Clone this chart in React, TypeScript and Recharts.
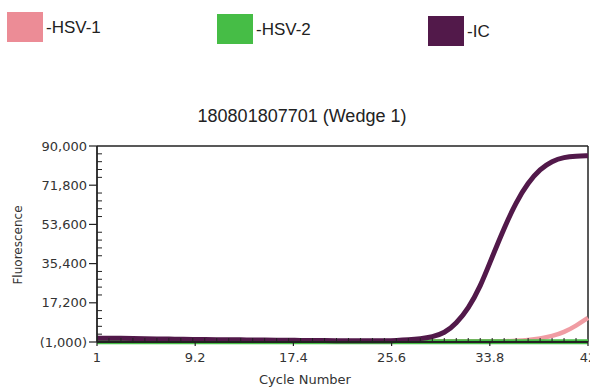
import React from 'react';
import { LineChart, Line, XAxis, YAxis, ReferenceLine } from 'recharts';

const cycles = [
  1, 2, 3, 4, 5, 6, 7, 8, 9, 10, 11, 12, 13, 14, 15, 16, 17, 18, 19, 20, 21,
  22, 23, 24, 25, 26, 27, 28, 29, 30, 31, 32, 33, 34, 35, 36, 37, 38, 39, 40, 41, 42,
];

const hsv1 = [
  -700, -700, -700, -700, -700, -700, -700, -700, -700, -700, -700, -700, -700, -700,
  -700, -700, -700, -700, -700, -700, -700, -700, -700, -700, -700, -700, -700, -700,
  -700, -700, -700, -700, -700, -700, -700, -500, -100, 600, 1700, 3500, 6500, 10200,
];

const hsv2 = [
  -900, -900, -900, -900, -900, -900, -900, -900, -900, -900, -900, -900, -900, -900,
  -900, -900, -900, -900, -900, -900, -900, -900, -900, -900, -900, -900, -900, -900,
  -900, -900, -900, -900, -900, -900, -900, -900, -900, -900, -900, -900, -900, -900,
];

const ic = [
  800, 750, 700, 600, 500, 420, 350, 280, 200, 150, 100, 50, 0, -50, -100, -150, -200,
  -250, -300, -350, -400, -420, -450, -450, -420, -300, 0, 500, 1400, 3000, 7600, 14500,
  24500, 38500, 52000, 64000, 73000, 79300, 83000, 84800, 85300, 85500,
];

const yMajor = [-1000, 17200, 35400, 53600, 71800, 90000];
const xMajor = [1, 9.2, 17.4, 25.6, 33.8, 42];

// minor ticks: 5 subdivisions on y, every cycle on x
const yTicks: number[] = [];
for (let i = 0; i < yMajor.length - 1; i++) {
  const step = (yMajor[i + 1] - yMajor[i]) / 5;
  for (let k = 0; k < 5; k++) yTicks.push(yMajor[i] + step * k);
}
yTicks.push(yMajor[yMajor.length - 1]);
const xTicks = Array.from(new Set([...cycles, ...xMajor])).sort((a, b) => a - b);

const data = cycles.map((c, i) => ({ cycle: c, hsv1: hsv1[i], hsv2: hsv2[i], ic: ic[i] }));

const PINK = '#ec8c96';
const GREEN = '#46bd46';
const PURPLE = '#52194a';
const AXIS = '#222';

const fmtY = (v: number) =>
  v < 0 ? `(${Math.abs(v).toLocaleString('en-US')})` : v.toLocaleString('en-US');

const tickFont = { fontFamily: 'DejaVu Sans', fontSize: 13, fill: '#333' };

const YTick = (props: any) => {
  const { x, y, payload } = props;
  const major = yMajor.some((m) => Math.abs(m - payload.value) < 1);
  if (!major) return <line x1={x} x2={x + 5} y1={y} y2={y} stroke={AXIS} strokeWidth={1} />;
  return (
    <g>
      <line x1={x - 8} x2={x} y1={y} y2={y} stroke={AXIS} strokeWidth={1.2} />
      <text x={x - 10} y={y} dy={4.5} textAnchor="end" {...tickFont}>
        {fmtY(payload.value)}
      </text>
    </g>
  );
};

const XTick = (props: any) => {
  const { x, y, payload } = props;
  const major = xMajor.some((m) => Math.abs(m - payload.value) < 0.01);
  if (!major) return <line x1={x} x2={x} y1={y} y2={y - 4} stroke={AXIS} strokeWidth={1} />;
  return (
    <g>
      <line x1={x} x2={x} y1={y} y2={y + 4} stroke={AXIS} strokeWidth={1.2} />
      <text x={x} y={y + 20} textAnchor="middle" {...tickFont}>
        {payload.value}
      </text>
    </g>
  );
};

const legendItems = [
  { label: '-HSV-1', color: PINK, left: 7, top: 12 },
  { label: '-HSV-2', color: GREEN, left: 217, top: 14 },
  { label: '-IC', color: PURPLE, left: 428, top: 16 },
];

export default function App() {
  return (
    <div
      style={{
        position: 'absolute',
        left: 0,
        top: 0,
        width: 590,
        height: 388,
        background: '#fff',
        overflow: 'hidden',
        fontFamily: 'Liberation Sans, Arial, sans-serif',
      }}
    >
      {legendItems.map((it) => (
        <div key={it.label} style={{ position: 'absolute', left: it.left, top: it.top, display: 'flex', alignItems: 'center' }}>
          <div style={{ width: 36, height: 30, background: it.color }} />
          <span style={{ marginLeft: 3, fontSize: 17, color: '#222', paddingTop: 2 }}>{it.label}</span>
        </div>
      ))}
      <div style={{ position: 'absolute', left: 0, width: 604, top: 106, textAlign: 'center', fontSize: 18, color: '#222' }}>
        180801807701 (Wedge 1)
      </div>
      <div
        style={{
          position: 'absolute',
          left: 18,
          top: 245,
          transform: 'translate(-50%, -50%) rotate(-90deg)',
          fontFamily: 'DejaVu Sans',
          fontSize: 12,
          color: '#333',
          whiteSpace: 'nowrap',
        }}
      >
        Fluorescence
      </div>
      <div
        style={{
          position: 'absolute',
          left: 0,
          width: 610,
          top: 372,
          textAlign: 'center',
          fontFamily: 'DejaVu Sans',
          fontSize: 13,
          color: '#333',
        }}
      >
        Cycle Number
      </div>
      <div style={{ position: 'absolute', left: 0, top: 0 }}>
        <LineChart width={590} height={388} data={data} margin={{ top: 146, right: 2, bottom: 16, left: 0 }}>
          <XAxis
            dataKey="cycle"
            type="number"
            domain={[1, 42]}
            ticks={xTicks}
            interval={0}
            height={30}
            tickSize={0}
            tickMargin={0}
            tickLine={false}
            tick={(p: any) => <XTick {...p} />}
            axisLine={{ stroke: AXIS, strokeWidth: 1.8 }}
          />
          <YAxis
            type="number"
            domain={[-1000, 90000]}
            ticks={yTicks}
            interval={0}
            width={97}
            tickSize={0}
            tickMargin={0}
            tickLine={false}
            tick={(p: any) => <YTick {...p} />}
            axisLine={{ stroke: AXIS, strokeWidth: 1.8 }}
          />
          <ReferenceLine y={90000} stroke={AXIS} strokeWidth={1.5} />
          <ReferenceLine x={42} stroke={AXIS} strokeWidth={1.5} />
          <Line type="basis" dataKey="hsv1" stroke="#f09ca3" strokeWidth={4.5} dot={false} isAnimationActive={false} />
          <Line type="basis" dataKey="hsv2" stroke={GREEN} strokeWidth={5} dot={false} isAnimationActive={false} />
          <Line type="basis" dataKey="ic" stroke={PURPLE} strokeWidth={5} dot={false} isAnimationActive={false} />
        </LineChart>
      </div>
    </div>
  );
}
